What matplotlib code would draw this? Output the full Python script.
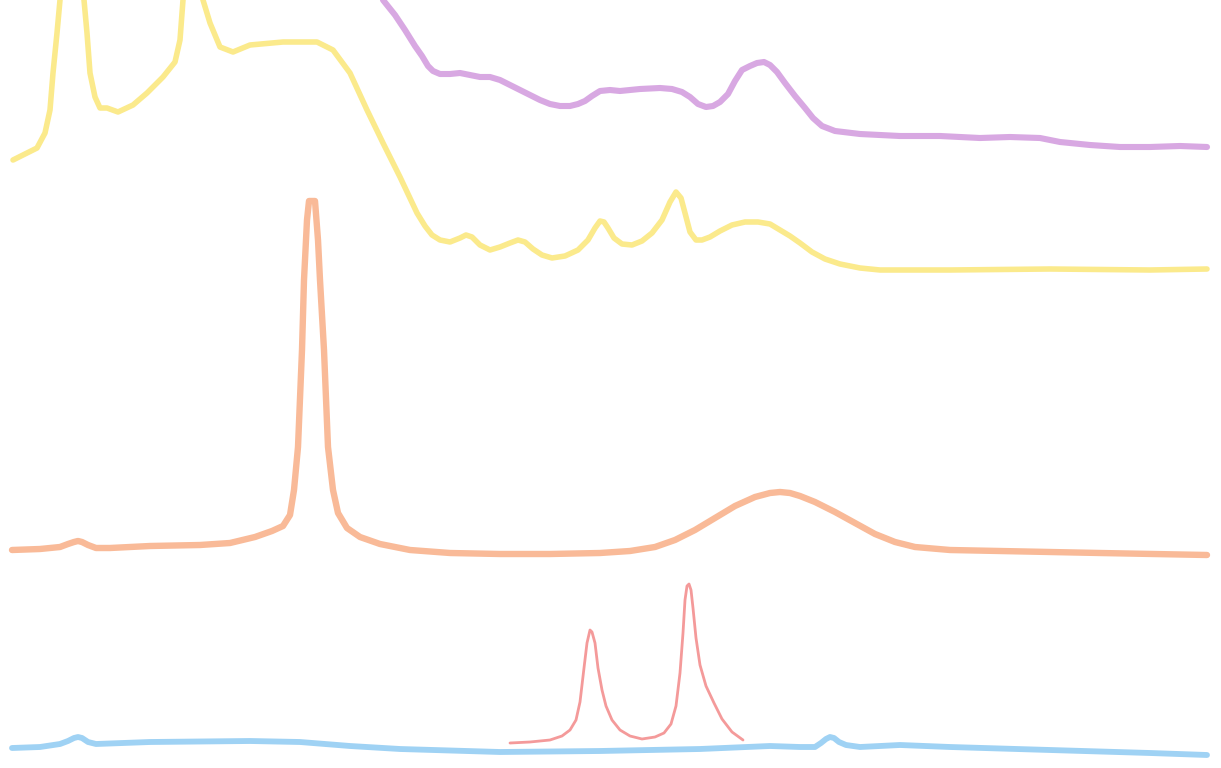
import numpy as np
import matplotlib.pyplot as plt

# Stacked spectra, no axes. x = position (arb.), y = intensity (arb., offset)
purple_x = [383, 395, 405, 415, 422, 428, 433, 440, 450, 460, 470, 480, 490, 500, 510,
            520, 530, 540, 550, 560, 570, 578, 585, 592, 600, 610, 620, 640, 660, 672,
            682, 690, 698, 706, 713, 720, 728, 735, 742, 750, 757, 764, 770, 777, 785,
            795, 805, 813, 822, 835, 860, 900, 940, 980, 1010, 1040, 1060, 1090, 1120,
            1150, 1180, 1207]
purple_y = [768, 753, 738, 722, 712, 702, 697, 694, 694, 695, 693, 691, 691, 688, 683,
            678, 673, 668, 664, 662, 662, 664, 667, 672, 677, 678, 677, 679, 680, 679,
            676, 671, 664, 661, 662, 666, 674, 687, 698, 702, 705, 706, 703, 696, 685,
            672, 660, 650, 642, 637, 634, 632, 632, 630, 631, 630, 626, 623, 621, 621,
            622, 621]

yellow_x = [13, 37, 45, 50, 53, 57, 60, 64, 68, 72, 76, 80, 84, 87, 90, 95, 100, 107,
            118, 133, 147, 163, 175, 180, 183, 186, 190, 193, 196, 200, 203, 210, 220,
            233, 250, 283, 317, 333, 350, 367, 383, 400, 417, 425, 432, 440, 450, 460,
            466, 472, 480, 490, 500, 510, 518, 525, 533, 542, 552, 565, 578, 588, 595,
            600, 604, 608, 614, 622, 632, 642, 652, 662, 670, 676, 681, 685, 690, 696,
            702, 710, 720, 732, 745, 758, 770, 780, 790, 800, 812, 825, 840, 860, 880,
            950, 1050, 1150, 1207]
yellow_y = [608, 620, 635, 658, 695, 735, 768, 800, 822, 830, 822, 800, 768, 735, 695,
            671, 660, 660, 656, 663, 675, 691, 706, 728, 768, 800, 820, 826, 820, 800,
            768, 745, 721, 716, 723, 726, 726, 718, 695, 658, 625, 591, 555, 542, 533,
            528, 526, 530, 533, 531, 523, 518, 521, 525, 528, 526, 519, 513, 510, 512,
            518, 528, 540, 547, 546, 540, 530, 524, 523, 527, 535, 548, 566, 576, 570,
            555, 536, 528, 528, 531, 537, 543, 546, 546, 544, 538, 532, 525, 516, 509,
            504, 500, 498, 498, 499, 498, 499]

orange_x = [12, 40, 60, 68, 74, 78, 82, 88, 96, 110, 150, 200, 230, 255, 272, 283, 290,
            294, 298, 302, 304, 307, 309, 315, 318, 320, 324, 328, 333, 338, 347, 360,
            380, 410, 450, 500, 550, 600, 630, 655, 675, 695, 715, 735, 755, 770, 780,
            790, 800, 815, 835, 855, 875, 895, 915, 950, 1000, 1100, 1207]
orange_y = [218, 219, 221, 224, 226, 227, 226, 223, 220, 220, 222, 223, 225, 231, 237,
            242, 253, 278, 321, 418, 488, 548, 567, 567, 528, 488, 418, 321, 278, 255,
            240, 231, 224, 218, 215, 214, 214, 215, 217, 221, 228, 238, 250, 262, 271,
            275, 276, 275, 272, 266, 256, 245, 234, 226, 221, 218, 217, 215, 213]

red_x = [510, 530, 550, 562, 570, 576, 580, 584, 587, 590, 592, 595, 598, 602, 606, 612,
         620, 630, 642, 655, 664, 671, 676, 680, 683, 685, 687, 689, 691, 693, 696, 700,
         706, 714, 722, 732, 743]
red_y = [25, 26, 28, 32, 38, 48, 66, 100, 125, 138, 136, 125, 100, 78, 62, 48, 38, 32,
         29, 31, 35, 44, 62, 95, 135, 168, 182, 184, 178, 160, 130, 103, 82, 65, 49, 36,
         28]

blue_x = [12, 40, 60, 68, 74, 78, 82, 88, 96, 150, 250, 300, 350, 400, 500, 600, 700,
          770, 800, 815, 821, 826, 830, 834, 839, 846, 860, 900, 950, 1050, 1150, 1207]
blue_y = [20, 21, 24, 27, 30, 31, 30, 26, 24, 26, 27, 26, 22, 19, 16, 17, 19, 22, 21,
          21, 25, 29, 31, 30, 26, 23, 21, 23, 21, 18, 15, 13]

fig = plt.figure(figsize=(12.21, 7.68), dpi=100)
ax = fig.add_axes([0, 0, 1, 1])

style = dict(solid_capstyle='round', solid_joinstyle='round')
ax.plot(purple_x, purple_y, color='#d8a8e2', lw=4.4, **style)
ax.plot(yellow_x, yellow_y, color='#fbea8c', lw=4.0, **style)
ax.plot(orange_x, orange_y, color='#f9ba98', lw=4.6, **style)
ax.plot(red_x, red_y, color='#f49a9a', lw=2.0, **style)
ax.plot(blue_x, blue_y, color='#9fd2f4', lw=4.2, **style)

ax.set_xlim(0, 1221)
ax.set_ylim(0, 768)
ax.axis('off')

fig.savefig('out.png', dpi=100)
